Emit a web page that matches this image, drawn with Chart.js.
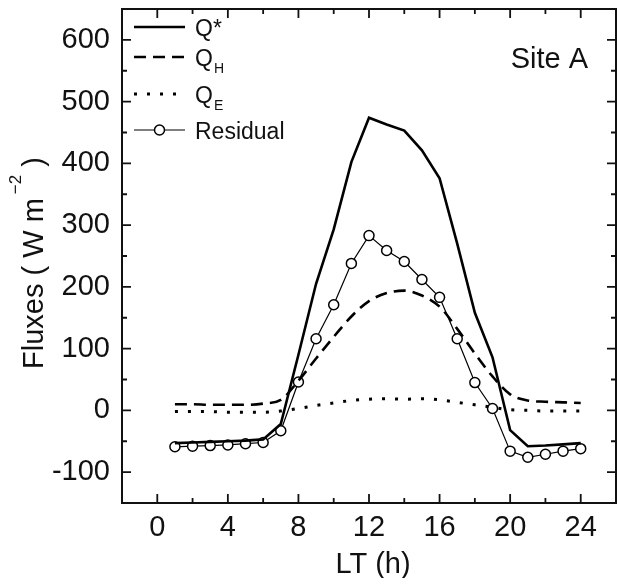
<!DOCTYPE html>
<html>
<head>
<meta charset="utf-8">
<script src="https://cdn.jsdelivr.net/npm/chart.js@4.4.1/dist/chart.umd.min.js"></script>
<style>
  html, body { margin: 0; padding: 0; background: #fff; }
  canvas { display: block; }
</style>
</head>
<body>
<canvas id="fluxChart" width="618" height="578"></canvas>
<script>
const hours = [1, 2, 3, 4, 5, 6, 7, 8, 9, 10, 11, 12, 13, 14, 15, 16, 17, 18, 19, 20, 21, 22, 23, 24];
const qStar = [-53, -52, -51, -50, -49, -47, -22, 90, 205, 293, 402, 474, 463, 453, 421, 376, 270, 158, 86, -32, -58, -57, -55, -53];
const qH = [10, 10, 9, 9, 9, 11, 17, 48, 84, 119, 152, 177, 190, 194, 186, 168, 132, 92, 55, 26, 16, 14, 13, 12];
const qE = [-2, -2, -2, -3, -3, -3, -1, 3, 8, 12, 16, 18, 19, 18, 19, 17, 13, 9, 5, 1, 0, -1, -1, -1];
const residual = [-59, -58, -57, -56, -54, -52, -33, 46, 116, 171, 238, 283, 259, 241, 212, 183, 116, 45, 3, -66, -76, -71, -66, -62];

const xTicks = [0, 4, 8, 12, 16, 20, 24];
const yTicks = [-100, 0, 100, 200, 300, 400, 500, 600];

const FONT = "'Liberation Sans', Arial, Helvetica, sans-serif";
const INK = "#111";

const toPoints = (values) => hours.map((h, i) => ({ x: h, y: values[i] }));

// legend rows: offset below the top of the plot, main text, subscript
const legendRows = [
  { offset: 18, text: "Q*", sub: "" },
  { offset: 48, text: "Q", sub: "H" },
  { offset: 85, text: "Q", sub: "E" },
  { offset: 121, text: "Residual", sub: "" },
];

// mid points between major ticks, used for the short ticks
function minorValues(majors) {
  const out = [];
  for (let i = 0; i < majors.length - 1; i++) out.push((majors[i] + majors[i + 1]) / 2);
  return out;
}

// keep the plot box fixed: no extra room reserved for edge labels
function fixBox(scale, size) {
  if (scale.isHorizontal()) scale.height = size; else scale.width = size;
  scale.paddingLeft = 0;
  scale.paddingRight = 0;
  scale.paddingTop = 0;
  scale.paddingBottom = 0;
}

const framePlugin = {
  id: "frame",
  afterDatasetsDraw(chart) {
    const { ctx, chartArea: a, scales } = chart;
    const x = scales.x, y = scales.y;
    ctx.save();
    ctx.strokeStyle = INK;
    ctx.lineWidth = 2;
    ctx.strokeRect(a.left, a.top, a.right - a.left, a.bottom - a.top);

    ctx.lineWidth = 1.8;
    ctx.beginPath();
    const tick = (px, len, vertical) => {
      if (vertical) {
        ctx.moveTo(px, a.bottom); ctx.lineTo(px, a.bottom - len);
        ctx.moveTo(px, a.top); ctx.lineTo(px, a.top + len);
      } else {
        ctx.moveTo(a.left, px); ctx.lineTo(a.left + len, px);
        ctx.moveTo(a.right, px); ctx.lineTo(a.right - len, px);
      }
    };
    xTicks.forEach(v => tick(x.getPixelForValue(v), 9, true));
    minorValues(xTicks).forEach(v => tick(x.getPixelForValue(v), 5, true));
    yTicks.forEach(v => tick(y.getPixelForValue(v), 9, false));
    minorValues(yTicks).forEach(v => tick(y.getPixelForValue(v), 5, false));
    ctx.stroke();

    // site label
    ctx.fillStyle = INK;
    ctx.font = `29px ${FONT}`;
    ctx.textAlign = "right";
    ctx.textBaseline = "alphabetic";
    ctx.fillText("Site A", a.right - 28, a.top + 59);

    // axis titles
    ctx.textAlign = "center";
    ctx.fillText("LT (h)", (a.left + a.right) / 2 + 4, 573);

    ctx.translate(43, 263);
    ctx.rotate(-Math.PI / 2);
    const main = "Fluxes ( W m";
    const sup = "\u22122";
    const tail = " )";
    ctx.font = `29px ${FONT}`;
    const wMain = ctx.measureText(main).width;
    const wTail = ctx.measureText(tail).width;
    ctx.font = `17px ${FONT}`;
    const wSup = ctx.measureText(sup).width;
    let cx = -(wMain + 4 + wSup + wTail) / 2;
    ctx.textAlign = "left";
    ctx.font = `29px ${FONT}`;
    ctx.fillText(main, cx, 0);
    cx += wMain + 4;
    ctx.font = `17px ${FONT}`;
    ctx.fillText(sup, cx, -22);
    cx += wSup;
    ctx.font = `29px ${FONT}`;
    ctx.fillText(tail, cx, 0);
    ctx.restore();

    // legend
    ctx.save();
    const x0 = a.left + 12, x1 = a.left + 63, tx = a.left + 73;
    chart.data.datasets.forEach((ds, i) => {
      const row = legendRows[i];
      const ly = a.top + row.offset;
      ctx.strokeStyle = ds.borderColor;
      ctx.lineWidth = ds.borderWidth;
      ctx.setLineDash(ds.borderDash || []);
      ctx.beginPath();
      ctx.moveTo(x0, ly);
      ctx.lineTo(x1, ly);
      ctx.stroke();
      ctx.setLineDash([]);
      if (ds.pointRadius > 0) {
        ctx.beginPath();
        ctx.arc((x0 + x1) / 2, ly, ds.pointRadius, 0, Math.PI * 2);
        ctx.fillStyle = ds.pointBackgroundColor;
        ctx.fill();
        ctx.lineWidth = ds.pointBorderWidth;
        ctx.strokeStyle = ds.pointBorderColor;
        ctx.stroke();
      }
      ctx.fillStyle = INK;
      ctx.textAlign = "left";
      ctx.textBaseline = "alphabetic";
      ctx.font = `23px ${FONT}`;
      ctx.fillText(row.text, tx, ly + 9);
      if (row.sub) {
        const w = ctx.measureText(row.text).width;
        ctx.font = `14px ${FONT}`;
        ctx.fillText(row.sub, tx + w + 1, ly + 16);
      }
    });
    ctx.restore();
  },
};

new Chart(document.getElementById("fluxChart").getContext("2d"), {
  type: "line",
  data: {
    datasets: [
      {
        label: "Q*",
        data: toPoints(qStar),
        borderColor: "#000",
        borderWidth: 2.6,
        pointRadius: 0,
        tension: 0,
      },
      {
        label: "QH",
        data: toPoints(qH),
        borderColor: "#000",
        borderWidth: 2.6,
        borderDash: [12, 7],
        pointRadius: 0,
        cubicInterpolationMode: "monotone",
      },
      {
        label: "QE",
        data: toPoints(qE),
        borderColor: "#000",
        borderWidth: 3,
        borderDash: [3, 10],
        pointRadius: 0,
        cubicInterpolationMode: "monotone",
      },
      {
        label: "Residual",
        data: toPoints(residual),
        borderColor: "#000",
        borderWidth: 1.2,
        pointRadius: 5,
        pointBackgroundColor: "#fff",
        pointBorderColor: "#000",
        pointBorderWidth: 1.5,
        tension: 0,
      },
    ],
  },
  options: {
    responsive: false,
    animation: false,
    layout: { autoPadding: false, padding: { top: 9, right: 2, left: 0, bottom: 0 } },
    plugins: { legend: { display: false }, tooltip: { enabled: false } },
    scales: {
      x: {
        type: "linear",
        min: -2,
        max: 26,
        afterBuildTicks: (scale) => { scale.ticks = xTicks.map(value => ({ value })); },
        afterFit: (scale) => fixBox(scale, 75),
        grid: { display: false, drawTicks: false },
        border: { display: false },
        ticks: { color: INK, font: { family: FONT, size: 29 }, padding: 8, maxRotation: 0 },
      },
      y: {
        min: -150,
        max: 650,
        afterBuildTicks: (scale) => { scale.ticks = yTicks.map(value => ({ value })); },
        afterFit: (scale) => fixBox(scale, 122),
        grid: { display: false, drawTicks: false },
        border: { display: false },
        ticks: { color: INK, font: { family: FONT, size: 29 }, padding: 12 },
      },
    },
  },
  plugins: [framePlugin],
});
</script>
</body>
</html>
